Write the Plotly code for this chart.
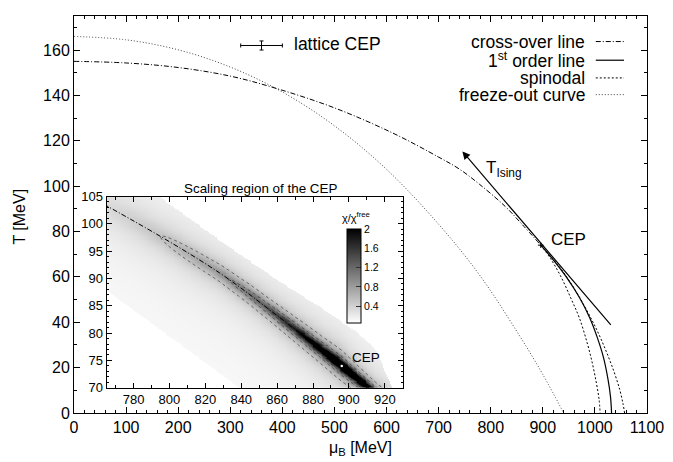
import numpy as np
import plotly.graph_objects as go

FONT = "Liberation Sans, Arial, Helvetica, sans-serif"

# ---------------- data ----------------
crossover_mu = [0, 100, 200, 300, 388, 500, 612, 700, 740, 778, 828, 860, 896]
crossover_T = [155, 154.3, 152.3, 148.5, 143.1, 134.5, 123.4, 112.8, 107.5, 100.9, 91.0, 83.2, 74.0]
first_order_mu = [896, 920, 945, 970, 990, 1005, 1017, 1025, 1030, 1032]
first_order_T = [74, 67.5, 60, 51, 42, 33, 24, 15, 7, 0]
spin_left_mu = [896, 915, 935, 955, 970, 985, 995, 1003, 1008, 1010]
spin_left_T = [74, 68, 60, 50, 42, 31, 22, 13, 6, 0]
spin_right_mu = [896, 930, 960, 985, 1005, 1022, 1037, 1048, 1054, 1057]
spin_right_T = [74, 65, 55, 45, 36, 27, 18, 10, 4, 0]
freeze_mu = [0, 100, 200, 300, 400, 500, 600, 700, 778, 850, 900, 940]
freeze_T = [166, 164.5, 160.1, 152.5, 141.5, 126.6, 107.4, 83.2, 61, 36, 17, 0]

cep_mu, cep_T = 896, 74
lattice_mu, lattice_T = 360, 162
lattice_dmu, lattice_dT = 40, 2
ising_start = (1033, 38.2)
ising_tip = (745.6, 115.3)

# inset: susceptibility ridge along the cross-over / first-order line
ridge_mu = [765, 780, 795, 810, 828, 845, 860, 875, 896, 910, 925]
ridge_T = [103.1, 100.5, 97.6, 94.6, 91.0, 87.0, 83.2, 79.4, 74.0, 70.2, 66.2]
chi_mu = [765, 795, 825, 840, 855, 870, 885, 896, 905, 915]
chi_peak = [0.32, 0.5, 0.8, 1.0, 1.3, 1.8, 2.5, 3.5, 3.0, 2.5]
chi_width = [2.5, 2.0, 1.5, 1.35, 1.2, 1.1, 1.0, 0.9, 0.85, 0.8]
chi_base = 0.08
chi_broad = 0.14
chi_broad_width = 7.0
band_upper_mu = [760, 798, 830, 861, 885, 905, 915, 924, 935]
band_upper_T = [113, 104.1, 96.5, 89.5, 84.5, 80.0, 77.0, 70.0, 60.0]
band_lower_mu = [760, 845]
band_lower_T = [89.0, 68.5]

legend_labels = ["cross-over line", "1<sup>st</sup> order line", "spinodal", "freeze-out curve"]

# ---------------- heatmap field ----------------
hx = np.arange(765, 930.01, 0.5)
hy = np.arange(70, 105.01, 0.2)
X, Y = np.meshgrid(hx, hy)
Tl = np.interp(X, ridge_mu, ridge_T)
pk = np.interp(X, chi_mu, chi_peak)
w = np.interp(X, chi_mu, chi_width)
D = Y - Tl
Z = chi_base + chi_broad / (1 + (D / chi_broad_width) ** 2) + (pk - chi_base - chi_broad) / (1 + (D / w) ** 2)
up = np.interp(X, band_upper_mu, band_upper_T)
lo = np.interp(X, band_lower_mu, band_lower_T)
Z[(Y > up) | (Y < lo)] = np.nan
Z = np.round(Z, 3)

fig = go.Figure()

CROSS_DASH = "5px,2px,1px,2px"
SPIN_DASH = "2px,2px"
FREEZE_DASH = "1px,2px"

# ---------------- main plot ----------------
fig.add_trace(go.Scatter(x=freeze_mu, y=freeze_T, mode="lines", line=dict(color="#444", width=1, dash=FREEZE_DASH, shape="spline"), showlegend=False))
fig.add_trace(go.Scatter(x=crossover_mu, y=crossover_T, mode="lines", line=dict(color="black", width=1, dash=CROSS_DASH, shape="spline"), showlegend=False))
fig.add_trace(go.Scatter(x=spin_left_mu, y=spin_left_T, mode="lines", line=dict(color="black", width=1, dash=SPIN_DASH, shape="spline"), showlegend=False))
fig.add_trace(go.Scatter(x=spin_right_mu, y=spin_right_T, mode="lines", line=dict(color="black", width=1, dash=SPIN_DASH, shape="spline"), showlegend=False))
fig.add_trace(go.Scatter(x=first_order_mu, y=first_order_T, mode="lines", line=dict(color="black", width=1.2, shape="spline"), showlegend=False))
fig.add_trace(go.Scatter(x=[cep_mu], y=[cep_T], mode="markers", marker=dict(color="black", size=4, symbol="cross-thin", line=dict(width=1, color="black")), showlegend=False))
fig.add_trace(go.Scatter(x=[lattice_mu], y=[lattice_T], mode="markers", marker=dict(color="black", size=1),
                         error_x=dict(type="constant", value=lattice_dmu, color="black", thickness=1, width=2),
                         error_y=dict(type="constant", value=lattice_dT, color="black", thickness=1, width=2),
                         showlegend=False))

# ---------------- inset ----------------
fig.add_trace(go.Heatmap(x=hx, y=hy, z=Z, xaxis="x2", yaxis="y2", zmin=0.04, zmax=2,
                         colorscale=[[0, "white"], [1, "black"]], zsmooth=False, hoverinfo="skip",
                         colorbar=dict(x=0.476, xanchor="left", y=0.344, yanchor="middle", len=0.2376, lenmode="fraction",
                                       thickness=14, thicknessmode="pixels", outlinecolor="black", outlinewidth=1,
                                       tickvals=[0.4, 0.8, 1.2, 1.6, 2], ticktext=["0.4", "0.8", "1.2", "1.6", "2"],
                                       ticks="inside", ticklen=5, tickcolor="#333",
                                       tickfont=dict(family=FONT, size=10.5, color="black"), xpad=0, ypad=0)))
fig.add_trace(go.Contour(x=hx, y=hy, z=Z, xaxis="x2", yaxis="y2", showscale=False, hoverinfo="skip",
                         contours=dict(coloring="none", start=0.5, end=1.7, size=0.4),
                         line=dict(color="#333", width=0.7, dash="dot")))
fig.add_trace(go.Scatter(x=crossover_mu, y=crossover_T, mode="lines", xaxis="x2", yaxis="y2", line=dict(color="black", width=1, dash=CROSS_DASH, shape="spline"), showlegend=False))
fig.add_trace(go.Scatter(x=first_order_mu, y=first_order_T, mode="lines", xaxis="x2", yaxis="y2", line=dict(color="black", width=1.2, shape="spline"), showlegend=False))
fig.add_trace(go.Scatter(x=[cep_mu], y=[cep_T], mode="markers", xaxis="x2", yaxis="y2", marker=dict(color="white", size=2.5), showlegend=False))

axis_common = dict(showline=True, linecolor="black", linewidth=1, mirror="allticks", ticks="inside",
                   tickcolor="black", showgrid=False, zeroline=False)

fig.update_layout(
    width=673, height=462,
    margin=dict(l=74, r=25, t=9, b=49),
    plot_bgcolor="white", paper_bgcolor="white",
    font=dict(family=FONT, color="black", size=16),
    showlegend=False,
    xaxis=dict(range=[0, 1100], dtick=100, tick0=0, ticklen=6,
               minor=dict(dtick=20, ticklen=3, ticks="inside", tickcolor="black"),
               tickfont=dict(size=16), **axis_common),
    yaxis=dict(range=[0, 175], dtick=20, tick0=0, ticklen=6,
               minor=dict(dtick=10, ticklen=3, ticks="inside", tickcolor="black"),
               tickfont=dict(size=16), **axis_common),
    xaxis2=dict(domain=[0.057, 0.5737], anchor="y2", range=[765, 930], dtick=20, tick0=780, ticklen=5,
                minor=dict(dtick=10, ticklen=3, ticks="inside", tickcolor="black"),
                tickfont=dict(size=13), **axis_common),
    yaxis2=dict(domain=[0.0636, 0.5453], anchor="x2", range=[70, 105], dtick=5, tick0=70, ticklen=5,
                minor=dict(dtick=1, ticklen=2, ticks="inside", tickcolor="black"),
                tickfont=dict(size=13), **axis_common),
)

ann = []
ann.append(dict(text="T [MeV]", xref="paper", yref="paper", x=-0.0958, y=0.495, textangle=-90, showarrow=False,
                font=dict(size=16), xanchor="center", yanchor="middle"))
ann.append(dict(text="μ<sub>B</sub> [MeV]", xref="paper", yref="paper",
                x=0.5, y=-0.089, showarrow=False, font=dict(size=16), xanchor="center", yanchor="middle"))
ann.append(dict(text="lattice CEP", x=419, y=162.6, xref="x", yref="y", showarrow=False, xanchor="left", yanchor="middle", font=dict(size=17.5)))
ann.append(dict(text="CEP", x=912, y=76.3, xref="x", yref="y", showarrow=False, xanchor="left", yanchor="middle", font=dict(size=17)))
ann.append(dict(text="T<sub>Ising</sub>", x=788, y=107.5, xref="x", yref="y", showarrow=False, xanchor="left", yanchor="middle", font=dict(size=17)))
ann.append(dict(x=ising_tip[0], y=ising_tip[1], ax=ising_start[0], ay=ising_start[1], xref="x", yref="y", axref="x", ayref="y",
                showarrow=True, arrowhead=2, arrowsize=1.3, arrowwidth=1.2, arrowcolor="black", text=""))
ann.append(dict(text="Scaling region of the CEP", xref="paper", yref="paper", x=0.3253, y=0.5644, showarrow=False,
                xanchor="center", yanchor="middle", font=dict(size=13.4)))
ann.append(dict(text="CEP", x=900.6, y=75.5, xref="x2", yref="y2", showarrow=False, xanchor="left", yanchor="middle", font=dict(size=13.5)))
ann.append(dict(text="χ/χ<sup>free</sup>", xref="paper", yref="paper", x=0.493, y=0.4926, showarrow=False,
                xanchor="center", yanchor="middle", font=dict(size=11)))

# manual key (text right-aligned, sample on the right)
key_y_px = [35, 54, 72, 89]
key_styles = [dict(color="black", width=1, dash=CROSS_DASH), dict(color="black", width=1.2),
              dict(color="black", width=1, dash=SPIN_DASH), dict(color="#444", width=1, dash=FREEZE_DASH)]
shapes = []
for lab, ypx, st in zip(legend_labels, key_y_px, key_styles):
    yp = (413 - ypx) / 404
    ann.append(dict(text=lab, xref="paper", yref="paper", x=0.8955, y=yp, showarrow=False, xanchor="right",
                    yanchor="middle", font=dict(size=17.5)))
    shapes.append(dict(type="line", xref="paper", yref="paper", x0=0.9106, x1=0.9599, y0=yp, y1=yp, line=st))

fig.update_layout(annotations=ann, shapes=shapes)
fig.write_html("out.html", config={"displayModeBar": False},
               post_script="document.body.style.margin='0px';document.body.style.padding='0px';")
